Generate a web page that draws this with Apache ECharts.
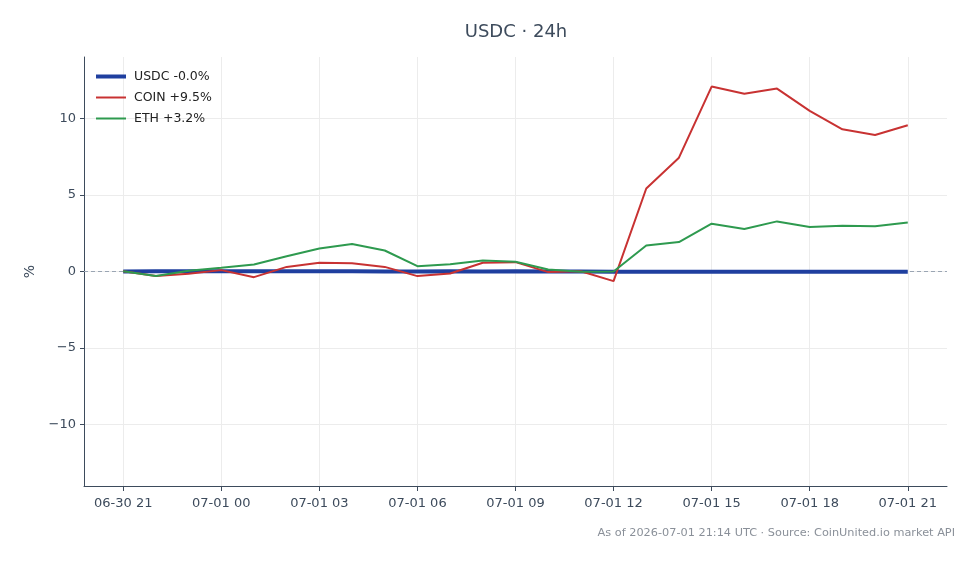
<!DOCTYPE html>
<html>
<head>
<meta charset="utf-8">
<title>USDC · 24h</title>
<script src="https://cdn.jsdelivr.net/npm/echarts@6/dist/echarts.min.js"></script>
<style>
  html, body { margin: 0; padding: 0; background: #fff; }
  #chart { width: 979px; height: 564px; }
</style>
</head>
<body>
<div id="chart"></div>
<script>
  // hourly points, 06-30 21:00 -> 07-01 21:00 UTC
  var hourLabels = ['06-30 21', '06-30 22', '06-30 23', '07-01 00', '07-01 01', '07-01 02', '07-01 03',
    '07-01 04', '07-01 05', '07-01 06', '07-01 07', '07-01 08', '07-01 09', '07-01 10', '07-01 11',
    '07-01 12', '07-01 13', '07-01 14', '07-01 15', '07-01 16', '07-01 17', '07-01 18', '07-01 19',
    '07-01 20', '07-01 21']
  var tickHours = [0, 3, 6, 9, 12, 15, 18, 21, 24]
  var yTicks = [-10, -5, 0, 5, 10]

  var usdc = [0.0, 0.01, 0.01, 0.02, 0.01, 0.02, 0.01, 0.01, 0.0, 0.0, 0.01, 0.0, 0.01,
    0.0, 0.0, -0.01, -0.01, -0.02, -0.02, -0.01, -0.02, -0.02, -0.02, -0.02, -0.01]
  var coin = [0.02, -0.3, -0.15, 0.09, -0.37, 0.3, 0.57, 0.54, 0.3, -0.3, -0.13, 0.57, 0.61,
    -0.04, 0.02, -0.63, 5.42, 7.43, 12.07, 11.6, 11.94, 10.48, 9.28, 8.91, 9.54]
  var eth = [0.02, -0.3, 0.05, 0.25, 0.46, 1.0, 1.5, 1.79, 1.37, 0.35, 0.48, 0.72, 0.63,
    0.13, -0.02, 0.0, 1.7, 1.92, 3.12, 2.77, 3.27, 2.9, 2.99, 2.96, 3.2]

  var seriesNames = ['USDC -0.0%', 'COIN +9.5%', 'ETH +3.2%']
  var colors = ['#1f3f9f', '#c83232', '#2e9a4f']
  var widths = [4, 2, 2]

  function pairs(vals) {
    return vals.map(function (v, i) { return [i, v] })
  }
  function minus(v) {
    return String(v).replace('-', '\u2212')
  }

  var axisColor = '#3d4b5c'
  var font = 'DejaVu Sans'

  var chart = echarts.init(document.getElementById('chart'))
  chart.setOption({
    animation: false,
    textStyle: { fontFamily: font },
    title: {
      text: 'USDC · 24h',
      left: 511,
      top: 18,
      textAlign: 'center',
      textStyle: { fontFamily: font, fontSize: 18, fontWeight: 'normal', color: axisColor }
    },
    graphic: [{
      type: 'text',
      right: 24,
      top: 528,
      style: {
        text: 'As of 2026-07-01 21:14 UTC · Source: CoinUnited.io market API',
        font: '11.3px "DejaVu Sans"',
        fill: '#8a9099'
      }
    }],
    legend: {
      orient: 'vertical',
      left: 89,
      top: 65,
      itemWidth: 30,
      itemHeight: 10,
      itemGap: 8,
      itemStyle: { opacity: 0 },
      textStyle: { fontFamily: font, fontSize: 12.5, color: '#222', padding: [0, 0, 0, 3] },
      data: seriesNames.map(function (n, i) {
        return { name: n, lineStyle: { width: widths[i], color: colors[i] } }
      })
    },
    grid: { left: 84, right: 32, top: 57, bottom: 78 },
    xAxis: {
      type: 'value',
      min: -1.2,
      max: 25.2,
      axisLine: { show: true, onZero: false, lineStyle: { color: axisColor, width: 1 } },
      axisTick: { show: true, length: 5, customValues: tickHours, lineStyle: { color: axisColor } },
      axisLabel: {
        customValues: tickHours,
        margin: 11,
        fontSize: 13,
        color: axisColor,
        formatter: function (v) { return hourLabels[Math.round(v)] }
      },
      splitLine: { show: true, lineStyle: { color: '#ececec', width: 1 } }
    },
    yAxis: {
      type: 'value',
      min: -14,
      max: 14,
      name: '%',
      nameLocation: 'middle',
      nameRotate: 90,
      nameGap: 47,
      nameTextStyle: { fontFamily: font, fontSize: 14, color: axisColor },
      axisLine: { show: true, onZero: false, lineStyle: { color: axisColor, width: 1 } },
      axisTick: { show: true, length: 4, customValues: yTicks, lineStyle: { color: axisColor } },
      axisLabel: {
        customValues: yTicks,
        margin: 8,
        fontSize: 13,
        color: axisColor,
        formatter: function (v) { return minus(v) }
      },
      splitLine: { show: true, lineStyle: { color: '#ececec', width: 1 } }
    },
    series: [{
      // zero reference line, kept under the data lines
      name: 'zero',
      type: 'line',
      data: [],
      z: 1,
      markLine: {
        silent: true,
        z: 1,
        symbol: 'none',
        label: { show: false },
        lineStyle: { type: [4, 3], color: '#9aa5b3', width: 1 },
        data: [{ yAxis: 0 }]
      }
    }].concat([usdc, coin, eth].map(function (vals, i) {
      return {
        name: seriesNames[i],
        type: 'line',
        data: pairs(vals),
        symbol: 'none',
        z: 3,
        color: colors[i],
        lineStyle: { width: widths[i], color: colors[i] }
      }
    }))
  })
</script>
</body>
</html>
